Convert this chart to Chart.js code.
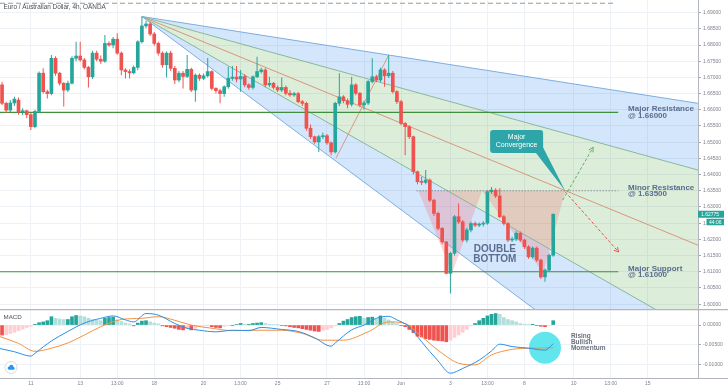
<!DOCTYPE html>
<html>
<head>
<meta charset="utf-8">
<title>EUR/AUD 4h</title>
<script src="https://cdn.jsdelivr.net/npm/chart.js@4.4.1/dist/chart.umd.min.js"></script>
<style>
  html, body { margin: 0; padding: 0; background: #ffffff; }
  #wrap { position: relative; width: 728px; height: 391px; overflow: hidden; }
  canvas { position: absolute; left: 0; }
  #priceChart { top: 0; }
  #macdChart { top: 309px; }
</style>
</head>
<body>
<div id="wrap">
  <canvas id="priceChart" width="728" height="309"></canvas>
  <canvas id="macdChart" width="728" height="82"></canvas>
</div>
<script>
// velas 4h, indice 0 = lunes 11 de mayo 00:00
const startIdx = -7;
const opens = [
  1.6677, 1.6620, 1.6599, 1.6621, 1.6630, 1.6594, 1.6597, 1.6585, 1.6548, 1.6595,
  1.6713, 1.6656, 1.6650, 1.6759, 1.6713, 1.6682, 1.6661, 1.6682, 1.6759, 1.6766,
  1.6754, 1.6731, 1.6702, 1.6775, 1.6756, 1.6750, 1.6805, 1.6800, 1.6818, 1.6775,
  1.6723, 1.6718, 1.6714, 1.6731, 1.6810, 1.6859, 1.6865, 1.6834, 1.6805, 1.6775,
  1.6739, 1.6775, 1.6728, 1.6692, 1.6713, 1.6703, 1.6725, 1.6661, 1.6707, 1.6697,
  1.6705, 1.6718, 1.6666, 1.6659, 1.6650, 1.6671, 1.6697, 1.6701, 1.6695, 1.6703,
  1.6677, 1.6669, 1.6702, 1.6718, 1.6723, 1.6677, 1.6682, 1.6669, 1.6661, 1.6669,
  1.6651, 1.6646, 1.6650, 1.6625, 1.6620, 1.6543, 1.6517, 1.6501, 1.6517, 1.6520,
  1.6498, 1.6470, 1.6620, 1.6640, 1.6628, 1.6617, 1.6677, 1.6651, 1.6615, 1.6621,
  1.6687, 1.6702, 1.6692, 1.6723, 1.6705, 1.6713, 1.6656, 1.6625, 1.6558, 1.6548,
  1.6517, 1.6409, 1.6378, 1.6376, 1.6383, 1.6321, 1.6280, 1.6234, 1.6192, 1.6095,
  1.6157, 1.6270, 1.6254, 1.6198, 1.6229, 1.6249, 1.6244, 1.6247, 1.6250, 1.6347,
  1.6352, 1.6334, 1.6270, 1.6249, 1.6198, 1.6201, 1.6219, 1.6198, 1.6177, 1.6146,
  1.6173, 1.6136, 1.6084, 1.6105, 1.6151
];
const highs = [
  1.6686, 1.6625, 1.6630, 1.6640, 1.6638, 1.6605, 1.6600, 1.6590, 1.6600, 1.6718,
  1.6728, 1.6662, 1.6769, 1.6765, 1.6717, 1.6685, 1.6690, 1.6765, 1.6810, 1.6810,
  1.6760, 1.6735, 1.6782, 1.6782, 1.6768, 1.6831, 1.6812, 1.6825, 1.6836, 1.6780,
  1.6728, 1.6725, 1.6737, 1.6815, 1.6888, 1.6875, 1.6870, 1.6840, 1.6810, 1.6780,
  1.6780, 1.6782, 1.6735, 1.6720, 1.6720, 1.6769, 1.6730, 1.6712, 1.6712, 1.6712,
  1.6760, 1.6722, 1.6670, 1.6665, 1.6675, 1.6733, 1.6735, 1.6735, 1.6723, 1.6710,
  1.6682, 1.6706, 1.6764, 1.6730, 1.6728, 1.6702, 1.6686, 1.6675, 1.6700, 1.6675,
  1.6660, 1.6655, 1.6655, 1.6630, 1.6625, 1.6555, 1.6520, 1.6522, 1.6530, 1.6525,
  1.6502, 1.6625, 1.6713, 1.6645, 1.6635, 1.6702, 1.6682, 1.6655, 1.6628, 1.6692,
  1.6759, 1.6708, 1.6730, 1.6728, 1.6769, 1.6720, 1.6660, 1.6630, 1.6562, 1.6552,
  1.6520, 1.6412, 1.6393, 1.6414, 1.6388, 1.6325, 1.6285, 1.6238, 1.6195, 1.6162,
  1.6275, 1.6311, 1.6260, 1.6235, 1.6255, 1.6255, 1.6252, 1.6256, 1.6352, 1.6362,
  1.6358, 1.6358, 1.6275, 1.6253, 1.6208, 1.6225, 1.6224, 1.6202, 1.6182, 1.6178,
  1.6178, 1.6140, 1.6110, 1.6156, 1.6280
];
const lows = [
  1.6615, 1.6590, 1.6593, 1.6612, 1.6585, 1.6583, 1.6575, 1.6538, 1.6543, 1.6590,
  1.6650, 1.6635, 1.6645, 1.6705, 1.6675, 1.6610, 1.6655, 1.6678, 1.6750, 1.6748,
  1.6725, 1.6669, 1.6695, 1.6750, 1.6742, 1.6745, 1.6795, 1.6790, 1.6770, 1.6707,
  1.6697, 1.6697, 1.6710, 1.6722, 1.6805, 1.6852, 1.6828, 1.6798, 1.6768, 1.6730,
  1.6700, 1.6720, 1.6680, 1.6685, 1.6666, 1.6698, 1.6655, 1.6625, 1.6690, 1.6692,
  1.6700, 1.6660, 1.6650, 1.6620, 1.6640, 1.6665, 1.6690, 1.6685, 1.6656, 1.6670,
  1.6662, 1.6663, 1.6698, 1.6712, 1.6670, 1.6670, 1.6663, 1.6655, 1.6655, 1.6645,
  1.6640, 1.6640, 1.6620, 1.6612, 1.6535, 1.6510, 1.6495, 1.6470, 1.6510, 1.6492,
  1.6460, 1.6465, 1.6612, 1.6620, 1.6605, 1.6610, 1.6645, 1.6608, 1.6600, 1.6615,
  1.6682, 1.6685, 1.6685, 1.6671, 1.6698, 1.6650, 1.6618, 1.6552, 1.6460, 1.6510,
  1.6400, 1.6370, 1.6368, 1.6370, 1.6315, 1.6272, 1.6228, 1.6185, 1.6092, 1.6033,
  1.6150, 1.6248, 1.6192, 1.6190, 1.6222, 1.6238, 1.6238, 1.6240, 1.6245, 1.6340,
  1.6328, 1.6265, 1.6243, 1.6192, 1.6192, 1.6195, 1.6192, 1.6170, 1.6140, 1.6140,
  1.6130, 1.6078, 1.6069, 1.6100, 1.6146
];
const closes = [
  1.6620, 1.6599, 1.6621, 1.6633, 1.6594, 1.6597, 1.6585, 1.6548, 1.6595, 1.6713,
  1.6656, 1.6650, 1.6759, 1.6713, 1.6682, 1.6661, 1.6682, 1.6759, 1.6766, 1.6754,
  1.6731, 1.6702, 1.6775, 1.6756, 1.6750, 1.6805, 1.6800, 1.6818, 1.6775, 1.6723,
  1.6718, 1.6714, 1.6731, 1.6810, 1.6859, 1.6865, 1.6834, 1.6805, 1.6775, 1.6739,
  1.6775, 1.6728, 1.6692, 1.6713, 1.6703, 1.6725, 1.6661, 1.6707, 1.6697, 1.6705,
  1.6718, 1.6666, 1.6659, 1.6650, 1.6671, 1.6697, 1.6701, 1.6695, 1.6703, 1.6677,
  1.6669, 1.6702, 1.6718, 1.6723, 1.6677, 1.6682, 1.6669, 1.6661, 1.6669, 1.6651,
  1.6646, 1.6650, 1.6625, 1.6620, 1.6543, 1.6517, 1.6501, 1.6517, 1.6520, 1.6498,
  1.6470, 1.6620, 1.6640, 1.6628, 1.6617, 1.6677, 1.6651, 1.6615, 1.6621, 1.6687,
  1.6702, 1.6692, 1.6723, 1.6705, 1.6713, 1.6656, 1.6625, 1.6558, 1.6548, 1.6517,
  1.6409, 1.6378, 1.6376, 1.6383, 1.6321, 1.6280, 1.6234, 1.6192, 1.6095, 1.6157,
  1.6270, 1.6254, 1.6198, 1.6229, 1.6249, 1.6244, 1.6247, 1.6250, 1.6347, 1.6352,
  1.6334, 1.6270, 1.6249, 1.6198, 1.6201, 1.6219, 1.6198, 1.6177, 1.6146, 1.6173,
  1.6136, 1.6084, 1.6105, 1.6151, 1.62775
];

const histVals = [
  -0.0025, -0.0024, -0.0021, -0.0018, -0.0014, -0.0010, -0.0006, -0.0003, 0.0002, 0.0006,
  0.0008, 0.0011, 0.0021, 0.0017, 0.0015, 0.0014, 0.0014, 0.0021, 0.0024, 0.0023,
  0.0021, 0.0017, 0.0014, 0.0013, 0.0011, 0.0017, 0.0019, 0.0020, 0.0013, 0.0009,
  0.0005, 0.0003, -0.0002, 0.0005, 0.0010, 0.0011, 0.0008, 0.0005, 0.0003, -0.0002,
  -0.0004, -0.0006, -0.0008, -0.0011, -0.0012, -0.0009, -0.0012, -0.0008, -0.0004, -0.0002,
  -0.0001, -0.0004, -0.0006, -0.0007, -0.0003, -0.0001, -0.0001, 0.0001, 0.0004, 0.0002,
  0.0002, 0.0004, 0.0005, 0.0006, 0.0004, 0.0002, 0.0001, 0.00005, -0.0001, -0.0002,
  -0.0004, -0.0006, -0.0007, -0.0009, -0.0011, -0.0013, -0.0015, -0.0016, -0.0013, -0.0011,
  -0.0007, -0.0002, 0.0004, 0.0010, 0.0014, 0.0019, 0.0021, 0.0022, 0.0017, 0.0019,
  0.0020, 0.0016, 0.0023, 0.0017, 0.0013, 0.0008, 0.0004, -0.0001, -0.0004, -0.0011,
  -0.0019, -0.0028, -0.0030, -0.0034, -0.0036, -0.0038, -0.0039, -0.0040, -0.0042, -0.0038,
  -0.0031, -0.0025, -0.0018, -0.0011, -0.0002, 0.0004, 0.0011, 0.0017, 0.0023, 0.0027,
  0.0029, 0.0027, 0.0019, 0.0014, 0.0011, 0.0008, 0.0004, 0.0002, 0.0001, 0.0002,
  -0.0001, -0.0003, -0.0004, -0.0001, 0.0011
];
const macdIdx = [-7.5, -4, 0, 1, 3, 5, 9, 13, 17, 20, 23, 25, 28, 31, 35, 38, 41, 45, 49, 53,
  56, 61, 65, 69, 73, 74, 78, 81, 84, 87, 89, 92, 95, 99, 102, 105, 109, 112, 114, 117, 121, 125, 127];
const macdVals = [-0.0059, -0.0067, -0.0078, -0.0071, -0.0055, -0.0040, -0.0016, 0.0005, 0.0017, 0.0023,
  0.0013, 0.0008, 0.0029, 0.0025, 0.0004, -0.0008, -0.0013, -0.0017, -0.0013, -0.0014,
  -0.0006, -0.0011, -0.0016, -0.0032, -0.0053, -0.0045, -0.0012, 0.0000, 0.0017, 0.0022,
  0.0013, -0.0004, -0.0042, -0.0090, -0.0121, -0.0109, -0.0088, -0.0065, -0.0048, -0.0054,
  -0.0058, -0.0063, -0.0047];
const signalIdx = [-7.5, -3, 1, 5, 9, 13, 17, 22, 27, 31, 35, 39, 44, 49, 53, 61, 66, 71, 76, 82,
  87, 91, 95, 100, 104, 108, 112, 117, 122, 127];
const signalVals = [-0.0029, -0.0046, -0.0066, -0.0058, -0.0045, -0.0025, -0.0004, 0.0014, 0.0017, 0.0021,
  0.0012, 0.0000, -0.0008, -0.0014, -0.0013, -0.0013, -0.0021, -0.0038, -0.0038, -0.0017,
  0.0008, 0.0004, -0.0029, -0.0071, -0.0096, -0.0100, -0.0075, -0.0061, -0.0058, -0.0057];

// ejes
const tickIdx = [0, 12, 21, 30, 42, 51, 60, 72, 81, 90, 102, 111, 120, 132, 141, 150];
const tickLabels = ['11', '13', '13:00', '18', '20', '13:00', '25', '27', '13:00', 'Jun', '3', '13:00', '8', '10', '13:00', '15'];
const priceTicks = [1.600, 1.605, 1.610, 1.615, 1.620, 1.625, 1.630, 1.635, 1.640, 1.645,
  1.650, 1.655, 1.660, 1.665, 1.670, 1.675, 1.680, 1.685, 1.690];
const macdTicks = [0, -0.005, -0.01];

// dibujos sobre el grafico (indice de vela, precio)
const fanStart = [27, 1.6888];
const fanEndIdx = 162.2;
const fanEnds = [1.6620, 1.6414, 1.6182, 1.5909, 1.5608];
const majorRes = 1.6592, minorRes = 1.6350, majorSup = 1.6100, topLine = 1.6929;
const levelEnd = 142.8, minorStart = 93.8;
const dbLeft = [[94.2, 1.635], [102.4, 1.6095], [109.7, 1.635], [94.2, 1.635]];
const dbRight = [[109.7, 1.635], [124.6, 1.6095], [129.9, 1.635], [109.7, 1.635]];
const handleLine = [[74.2, 1.6451], [87, 1.6769]];
const upPath = [[129.3, 1.6321], [136.7, 1.6484]];
const downPath = [[129.9, 1.6347], [142.9, 1.6161]];
const convergence = [129.9, 1.635];
const lastPrice = 1.62775;

const FONT = '"Liberation Sans", Arial, sans-serif';
Chart.defaults.font.family = FONT;
Chart.defaults.animation = false;

const xs = closes.map((c, k) => startIdx + k);
const candleCol = closes.map((c, k) => c >= opens[k] ? '#26a69a' : '#ef5350');
const pts = arr => arr.map(p => ({x: p[0], y: p[1]}));

function timeAxis(withLabels) {
  return {
    type: 'linear', min: -7.5, max: fanEndIdx, bounds: 'data', offset: false,
    afterBuildTicks: s => { s.ticks = tickIdx.map(v => ({value: v})); },
    afterFit: s => { s.height = withLabels ? 13 : 0; s.paddingLeft = 0; s.paddingRight = 0; },
    ticks: {display: withLabels, autoSkip: false, maxRotation: 0, padding: 3, color: '#7d808a',
      font: {size: 5}, callback: (v, i) => tickLabels[i]},
    grid: {color: '#eef1f6', drawTicks: false, offset: false},
    border: {display: false}
  };
}

function seg(points, color, extra) {
  return Object.assign({type: 'line', data: pts(points), borderColor: color, borderWidth: 1,
    pointRadius: 0, fill: false, tension: 0, order: 10}, extra || {});
}
const fanLine = k => [fanStart, [fanEndIdx, fanEnds[k]]];
const blueFill = 'rgba(40,130,235,0.2)';
const greenFill = 'rgba(70,160,60,0.19)';
const pinkFill = 'rgba(240,100,110,0.26)';

function arrowHead(ctx, x0, y0, x1, y1, color) {
  const a = Math.atan2(y1 - y0, x1 - x0), len = 5;
  ctx.setLineDash([]);
  ctx.strokeStyle = color;
  ctx.lineWidth = 1;
  ctx.beginPath();
  ctx.moveTo(x1 - len * Math.cos(a - 0.5), y1 - len * Math.sin(a - 0.5));
  ctx.lineTo(x1, y1);
  ctx.lineTo(x1 - len * Math.cos(a + 0.5), y1 - len * Math.sin(a + 0.5));
  ctx.stroke();
}

const priceNotes = {
  id: 'priceNotes',
  afterDatasetsDraw(chart) {
    const {ctx, chartArea: area, scales: {x, y}} = chart;
    const px = v => x.getPixelForValue(v), py = v => y.getPixelForValue(v);
    ctx.save();
    ctx.beginPath();
    ctx.rect(area.left, area.top, area.right - area.left, area.bottom - area.top);
    ctx.clip();

    arrowHead(ctx, px(upPath[0][0]), py(upPath[0][1]), px(upPath[1][0]), py(upPath[1][1]), '#63ad63');
    arrowHead(ctx, px(downPath[0][0]), py(downPath[0][1]), px(downPath[1][0]), py(downPath[1][1]), '#e0574c');

    // textos de niveles
    ctx.font = 'bold 8px ' + FONT;
    ctx.fillStyle = '#5a6d8c';
    ctx.textBaseline = 'middle';
    ctx.textAlign = 'left';
    [[majorRes, 'Major Resistance', '@ 1.66000'],
     [minorRes, 'Minor Resistance', '@ 1.63500'],
     [majorSup, 'Major Support', '@ 1.61000']].forEach(n => {
      const yy = py(n[0]);
      ctx.fillText(n[1], px(145.2), yy - 3.3);
      ctx.fillText(n[2], px(145.2), yy + 3.5);
    });

    // doble suelo
    ctx.font = 'bold 10px ' + FONT;
    ctx.fillStyle = '#5b6d92';
    ctx.textAlign = 'center';
    const dbx = px(112.8), dby = py(1.6153);
    ctx.fillText('DOUBLE', dbx, dby - 5);
    ctx.fillText('BOTTOM', dbx, dby + 5);

    // globo "Major Convergence"
    const cx = px(118.1), cy = py(1.6502), w = 53, h = 23;
    ctx.fillStyle = '#2ea5a8';
    ctx.beginPath();
    ctx.moveTo(cx + 19, cy + h / 2 - 0.5);
    ctx.lineTo(px(convergence[0]), py(convergence[1]));
    ctx.lineTo(cx + w / 2 - 0.5, cy + 5);
    ctx.closePath();
    ctx.fill();
    ctx.beginPath();
    ctx.roundRect(cx - w / 2, cy - h / 2, w, h, 3);
    ctx.fill();
    ctx.fillStyle = '#ffffff';
    ctx.font = '7px ' + FONT;
    ctx.fillText('Major', cx, cy - 4);
    ctx.fillText('Convergence', cx, cy + 3.5);
    ctx.restore();
  },
  afterDraw(chart) {
    const {ctx, chartArea: area, scales: {y}} = chart;
    ctx.save();
    ctx.font = '6.4px ' + FONT;
    ctx.fillStyle = '#4c4f58';
    ctx.textBaseline = 'middle';
    ctx.textAlign = 'left';
    ctx.fillText('Euro / Australian Dollar, 4h, OANDA', 3.5, 7.7);

    const yy = y.getPixelForValue(lastPrice);
    ctx.fillStyle = '#26a69a';
    ctx.fillRect(area.right, yy - 3.5, 26, 7);
    ctx.fillRect(area.right + 8.5, yy + 4.5, 17.5, 6.5);
    ctx.fillStyle = '#ffffff';
    ctx.font = '5px ' + FONT;
    ctx.fillText('1.62775', area.right + 3, yy + 0.2);
    ctx.fillText('44:06', area.right + 11, yy + 7.9);
    ctx.restore();
  }
};

new Chart(document.getElementById('priceChart'), {
  type: 'line',
  data: {
    datasets: [
      seg(fanLine(0), '#7eaee0', {fill: 1, backgroundColor: blueFill, order: 30}),
      seg(fanLine(1), '#86b89c', {fill: 3, backgroundColor: greenFill, order: 29}),
      seg(fanLine(2), '#d9967c', {order: 28}),
      seg(fanLine(3), '#86b89c', {fill: 4, backgroundColor: blueFill, order: 27}),
      seg(fanLine(4), '#7eaee0', {order: 26}),
      seg(handleLine, '#d39a84', {order: 25}),
      seg(dbLeft, 'rgba(0,0,0,0)', {fill: 'shape', backgroundColor: pinkFill, order: 20}),
      seg(dbRight, 'rgba(0,0,0,0)', {fill: 'shape', backgroundColor: pinkFill, order: 20}),
      seg([[-7.5, majorRes], [levelEnd, majorRes]], '#3f8f3f', {borderWidth: 1.2, order: 12}),
      seg([[-7.5, majorSup], [levelEnd, majorSup]], '#3f8f3f', {borderWidth: 1.2, order: 12}),
      seg([[minorStart, minorRes], [levelEnd, minorRes]], '#707070', {borderDash: [1, 2], order: 12}),
      seg([[-7.5, topLine], [141.6, topLine]], '#9a9a9a', {borderDash: [5, 3], order: 12}),
      {type: 'bar', data: xs.map((x, k) => ({x, y: [lows[k], highs[k]]})), backgroundColor: candleCol,
        barThickness: 1, grouped: false, minBarLength: 1, inflateAmount: 0, order: 6},
      {type: 'bar', data: xs.map((x, k) => ({x, y: [opens[k], closes[k]]})), backgroundColor: candleCol,
        barThickness: 3, grouped: false, minBarLength: 1, order: 5},
      seg(upPath, '#63ad63', {borderDash: [3, 2], order: 1}),
      seg(downPath, '#e0574c', {borderDash: [3, 2], order: 1})
    ]
  },
  options: {
    responsive: false,
    events: [],
    layout: {padding: 0},
    plugins: {legend: {display: false}, tooltip: {enabled: false}, filler: {drawTime: 'beforeDatasetsDraw'}},
    scales: {
      x: timeAxis(false),
      y: {
        type: 'linear', position: 'right', min: 1.5985, max: 1.6939, bounds: 'data',
        afterBuildTicks: s => { s.ticks = priceTicks.map(v => ({value: v})); },
        afterFit: s => { s.width = 30; s.paddingTop = 0; s.paddingBottom = 0; },
        ticks: {padding: 2, color: '#7d808a', font: {size: 5}, callback: v => v.toFixed(5)},
        grid: {color: '#eef1f6', tickLength: 3, tickColor: '#a3a6af'},
        border: {color: '#b2b5be'}
      }
    }
  },
  plugins: [priceNotes]
});

// ---- panel MACD ----
const histCol = histVals.map((v, k) => {
  const prev = k > 0 ? histVals[k - 1] : v;
  if (v >= 0) return v >= prev ? '#26a69a' : '#b2dfdb';
  return v <= prev ? '#ef5350' : '#ffcdd2';
});

const macdNotes = {
  id: 'macdNotes',
  beforeDatasetsDraw(chart) {
    const {ctx, scales: {x, y}} = chart;
    ctx.save();
    ctx.fillStyle = '#62e6ee';
    ctx.beginPath();
    ctx.arc(x.getPixelForValue(125.0), y.getPixelForValue(-0.0057), 16, 0, Math.PI * 2);
    ctx.fill();
    ctx.restore();
  },
  afterDatasetsDraw(chart) {
    const {ctx, scales: {x, y}} = chart;
    ctx.save();
    ctx.textBaseline = 'middle';
    ctx.textAlign = 'left';
    ctx.font = 'bold 6.5px ' + FONT;
    ctx.fillStyle = '#6b717d';
    const tx = x.getPixelForValue(131.3), ty = y.getPixelForValue(-0.0043);
    ctx.fillText('Rising', tx, ty - 6);
    ctx.fillText('Bullish', tx, ty);
    ctx.fillText('Momentum', tx, ty + 5.8);

    ctx.font = '6.2px ' + FONT;
    ctx.fillStyle = '#4c4f58';
    ctx.fillText('MACD', 3.5, 8.3);

    // logo
    const lx = 11, ly = 58.5;
    ctx.fillStyle = '#ffffff';
    ctx.strokeStyle = '#d7dae0';
    ctx.lineWidth = 1;
    ctx.beginPath();
    ctx.arc(lx, ly, 6, 0, Math.PI * 2);
    ctx.fill();
    ctx.stroke();
    ctx.fillStyle = '#2196f3';
    ctx.beginPath();
    ctx.arc(lx - 1.8, ly + 0.6, 1.6, 0, Math.PI * 2);
    ctx.arc(lx + 0.4, ly - 0.6, 2.1, 0, Math.PI * 2);
    ctx.arc(lx + 2.3, ly + 0.8, 1.4, 0, Math.PI * 2);
    ctx.fill();
    ctx.fillRect(lx - 1.8, ly + 0.4, 4.1, 1.8);
    ctx.restore();
  },
  afterDraw(chart) {
    const {ctx, chartArea: area} = chart;
    ctx.save();
    ctx.strokeStyle = '#b2b5be';
    ctx.lineWidth = 1.2;
    ctx.beginPath();
    ctx.moveTo(0, 0.6);
    ctx.lineTo(chart.width, 0.6);
    ctx.stroke();
    ctx.lineWidth = 1;
    ctx.beginPath();
    ctx.moveTo(0, area.bottom + 0.5);
    ctx.lineTo(chart.width, area.bottom + 0.5);
    ctx.stroke();
    ctx.restore();
  }
};

new Chart(document.getElementById('macdChart'), {
  type: 'line',
  data: {
    datasets: [
      {type: 'bar', data: xs.map((x, k) => ({x, y: histVals[k]})), backgroundColor: histCol,
        barThickness: 3, grouped: false, order: 3},
      {type: 'line', data: signalIdx.map((x, k) => ({x, y: signalVals[k]})), borderColor: '#f5923e',
        borderWidth: 1, pointRadius: 0, cubicInterpolationMode: 'monotone', order: 2},
      {type: 'line', data: macdIdx.map((x, k) => ({x, y: macdVals[k]})), borderColor: '#2a8fe8',
        borderWidth: 1, pointRadius: 0, cubicInterpolationMode: 'monotone', order: 1}
    ]
  },
  options: {
    responsive: false,
    events: [],
    layout: {padding: 0},
    plugins: {legend: {display: false}, tooltip: {enabled: false}},
    scales: {
      x: timeAxis(true),
      y: {
        type: 'linear', position: 'right', min: -0.0133, max: 0.00404, bounds: 'data',
        afterBuildTicks: s => { s.ticks = macdTicks.map(v => ({value: v})); },
        afterFit: s => { s.width = 30; s.paddingTop = 0; s.paddingBottom = 0; },
        ticks: {padding: 2, color: '#7d808a', font: {size: 5}, callback: v => v.toFixed(5)},
        grid: {color: '#eef1f6', tickLength: 3, tickColor: '#a3a6af'},
        border: {color: '#b2b5be'}
      }
    }
  },
  plugins: [macdNotes]
});
</script>
</body>
</html>
